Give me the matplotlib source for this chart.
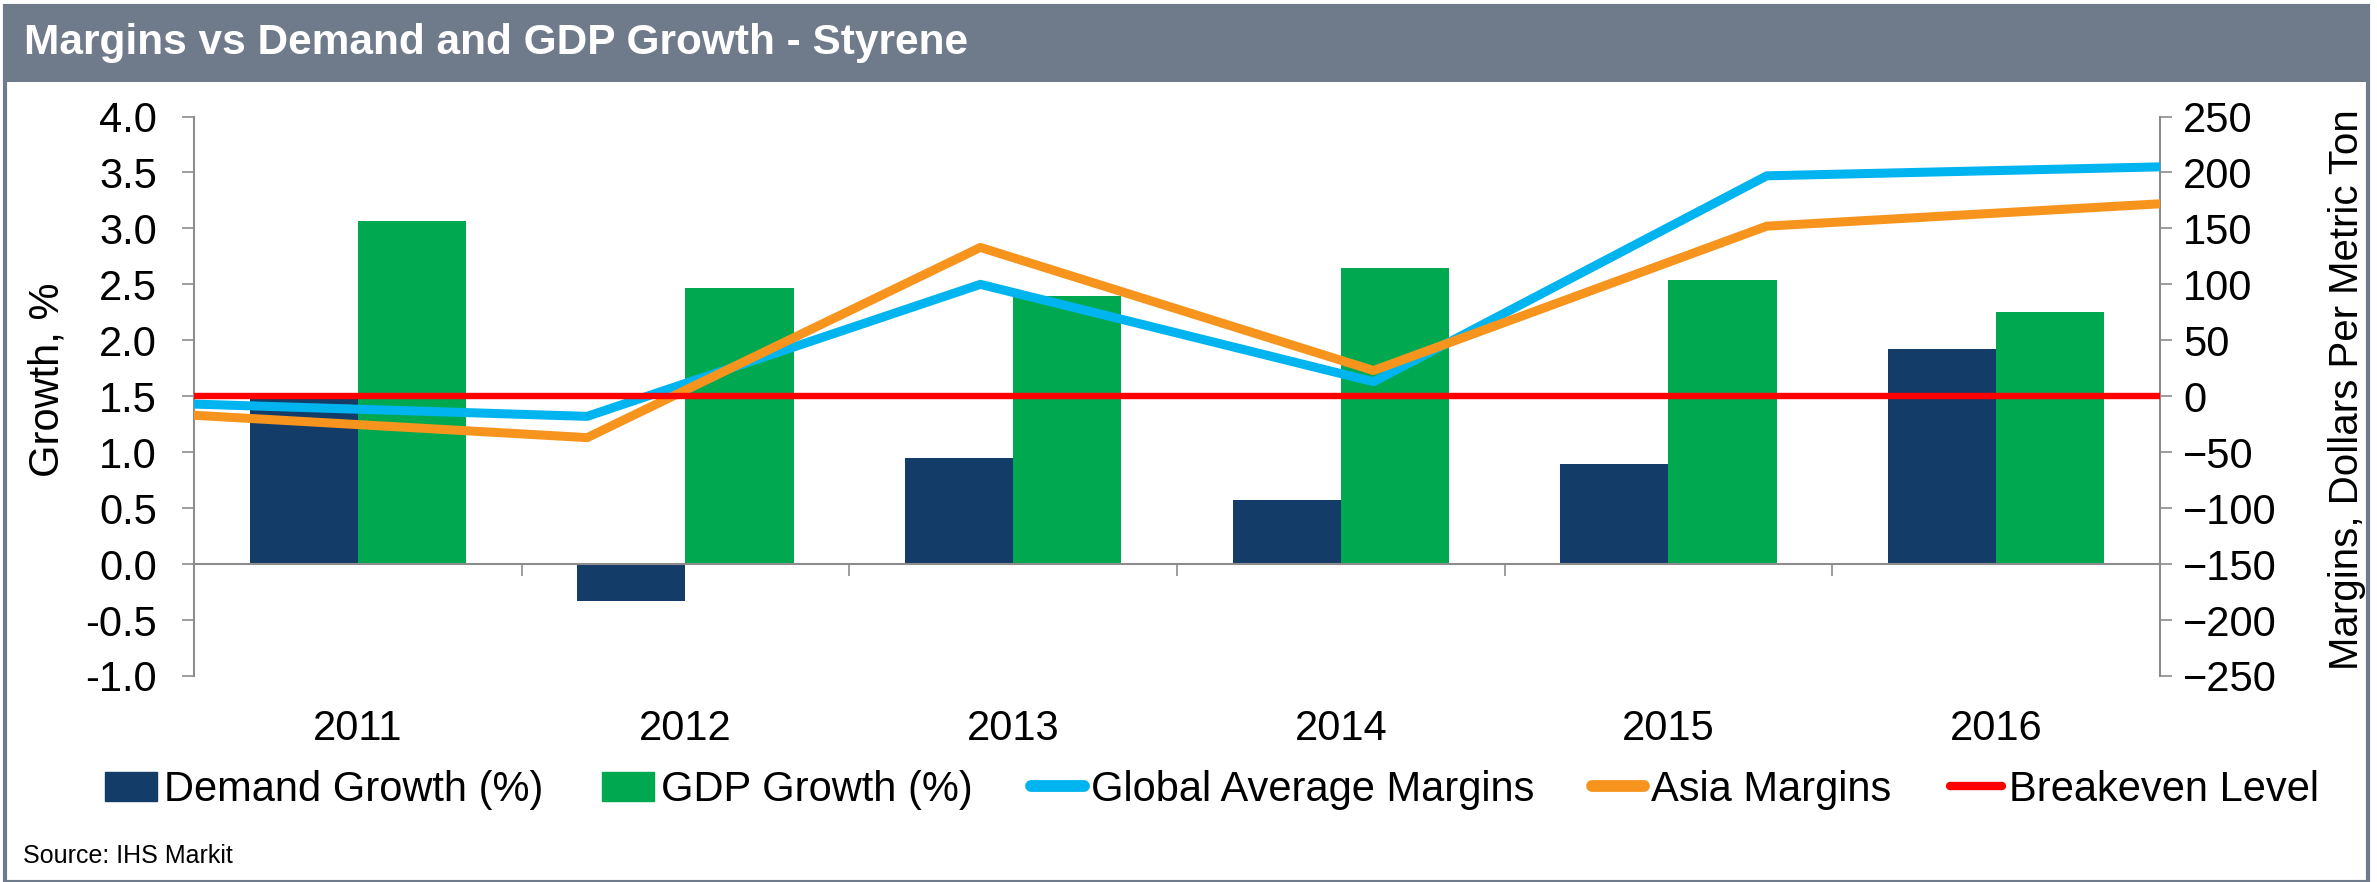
import matplotlib
matplotlib.use('Agg')
import matplotlib.pyplot as plt
from matplotlib.patches import Rectangle, Patch
from matplotlib.lines import Line2D
from matplotlib.ticker import FormatStrFormatter
import numpy as np

years = ['2011', '2012', '2013', '2014', '2015', '2016']
demand_growth = [1.52, -0.33, 0.95, 0.57, 0.89, 1.92]
gdp_growth = [3.07, 2.47, 2.40, 2.65, 2.54, 2.25]
global_margins = [-7, -18, 100, 13, 197, 205]
asia_margins = [-17, -37, 133, 23, 152, 172]
breakeven = [0, 0, 0, 0, 0, 0]

navy = '#133d68'
green = '#00a94f'
blue = '#00b4f0'
orange = '#f7941e'
red = '#ff0000'
frame_gray = '#6f7b8a'
axis_gray = '#8c8c8c'

plt.rcParams['font.family'] = ['Liberation Sans', 'DejaVu Sans']

fig = plt.figure(figsize=(23.77, 8.82), dpi=100)

# outer frame and title bar
fig.patches.append(Rectangle((0.0021, 0.0), 0.9941, 0.993, transform=fig.transFigure,
                             fill=False, edgecolor=frame_gray, linewidth=3))
fig.patches.append(Rectangle((0.0021, 0.907), 0.9941, 0.086, transform=fig.transFigure,
                             facecolor=frame_gray, edgecolor=frame_gray, linewidth=0))
fig.text(0.0101, 0.951, 'Margins vs Demand and GDP Growth - Styrene', color='white',
         fontsize=30.5, fontweight='bold', va='center', ha='left')

ax = fig.add_axes([0.0816, 0.2336, 0.8271, 0.6343])
x = np.arange(len(years))
w = 0.33
ax.bar(x - w / 2, demand_growth, w, color=navy)
ax.bar(x + w / 2, gdp_growth, w, color=green)
ax.set_xlim(-0.5, 5.5)
ax.set_ylim(-1, 4)
ax.set_yticks(np.arange(-1, 4.01, 0.5))
ax.yaxis.set_major_formatter(FormatStrFormatter('%.1f'))
ax.spines['top'].set_visible(False)
ax.spines['right'].set_visible(False)
ax.spines['bottom'].set_position(('data', 0))
for s in ['left', 'bottom']:
    ax.spines[s].set_color(axis_gray)
    ax.spines[s].set_linewidth(1.5)
ax.set_xticks(np.arange(-0.5, 6, 1))
ax.tick_params(axis='x', length=8.6, width=1.2, color=axis_gray, direction='out', labelbottom=False)
ax.tick_params(axis='y', length=8.6, width=1.2, color=axis_gray, direction='out', labelsize=30, pad=18)

sec = ax.secondary_xaxis('bottom')
sec.set_xticks(x, years)
sec.tick_params(length=0, pad=24, labelsize=30)
sec.spines['bottom'].set_visible(False)

ax2 = ax.twinx()
ax2.set_ylim(-250, 250)
ax2.set_yticks(np.arange(-250, 251, 50))
for s in ['left', 'top', 'bottom']:
    ax2.spines[s].set_visible(False)
ax2.spines['right'].set_color(axis_gray)
ax2.spines['right'].set_linewidth(1.5)
ax2.tick_params(axis='y', length=8.6, width=1.2, color=axis_gray, direction='out', labelsize=30, pad=8)

ax3 = ax2.twiny()
ax3.set_xlim(0, 5)
ax3.xaxis.set_visible(False)
for s in ax3.spines.values():
    s.set_visible(False)
ax3.plot(range(len(years)), global_margins, color=blue, linewidth=6.5)
ax3.plot(range(len(years)), asia_margins, color=orange, linewidth=6.5)
ax3.plot(range(len(years)), breakeven, color=red, linewidth=4.6)

fig.text(0.0198, 0.570, 'Growth, %', rotation=90, fontsize=30, ha='center', va='center')
fig.text(0.9874, 0.558, 'Margins, Dollars Per Metric Ton', rotation=90, fontsize=29,
         ha='center', va='center')

handles = [
    Patch(color=navy),
    Patch(color=green),
    Line2D([], [], color=blue, linewidth=8.5, solid_capstyle='round'),
    Line2D([], [], color=orange, linewidth=8.5, solid_capstyle='round'),
    Line2D([], [], color=red, linewidth=6, solid_capstyle='round'),
]
labels = ['Demand Growth (%)', 'GDP Growth (%)', 'Global Average Margins', 'Asia Margins', 'Breakeven Level']
fig.legend(handles, labels, loc='center', bbox_to_anchor=(0.51, 0.1043), ncol=5, frameon=False,
           fontsize=30, handlelength=1.25, handletextpad=0.17, columnspacing=1.4)

fig.text(0.0097, 0.022, 'Source: IHS Markit', fontsize=18, ha='left', va='baseline')

fig.savefig('out.png', dpi=100)
